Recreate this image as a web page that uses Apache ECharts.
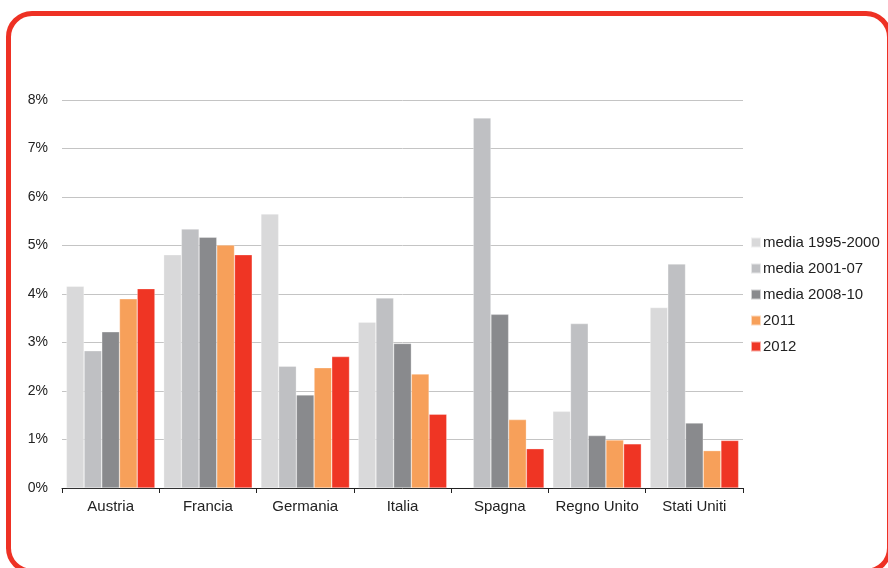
<!DOCTYPE html>
<html>
<head>
<meta charset="utf-8">
<script src="https://cdn.jsdelivr.net/npm/echarts@6/dist/echarts.min.js"></script>
<style>
html,body{margin:0;padding:0;background:#fff;overflow:hidden;}
#frame{position:absolute;left:6px;top:11px;width:886px;height:563px;box-sizing:border-box;border:5px solid #EE3124;border-radius:26px;}
#chart{position:absolute;left:0;top:0;width:888px;height:568px;}
</style>
</head>
<body>
<div id="frame"></div>
<div id="chart"></div>
<script>
var categories = ['Austria','Francia','Germania','Italia','Spagna','Regno Unito','Stati Uniti'];
var seriesNames = ['media 1995-2000','media 2001-07','media 2008-10','2011','2012'];
var s1995 = [4.16, 4.81, 5.65, 3.42, null, 1.58, 3.72];
var s2001 = [2.83, 5.34, 2.51, 3.92, 7.63, 3.39, 4.62];
var s2008 = [3.22, 5.17, 1.92, 2.98, 3.58, 1.08, 1.34];
var s2011 = [3.90, 5.01, 2.48, 2.35, 1.41, 0.99, 0.77];
var s2012 = [4.11, 4.81, 2.71, 1.52, 0.81, 0.91, 0.98];
var yTicks = [0,1,2,3,4,5,6,7,8];
var colors = ['#D9D9DA','#BFC0C3','#898A8D','#F7A05A','#EF3524'];
var allData = [s1995, s2001, s2008, s2011, s2012];

var chart = echarts.init(document.getElementById('chart'), null, {renderer:'canvas'});
var font = '"Liberation Sans", Arial, sans-serif';
chart.setOption({
  animation:false,
  color: colors,
  grid:{left:62, right:145, top:100, bottom:80, containLabel:false},
  legend:{
    orient:'vertical', left:745, top:230, itemWidth:10, itemHeight:10, itemGap:11,
    icon:'rect',
    textStyle:{fontFamily:font, fontSize:15, lineHeight:15, color:'#222', padding:[0,0,0,-3]},
    data: seriesNames
  },
  xAxis:{
    type:'category', data:categories,
    axisLine:{lineStyle:{color:'#222', width:1}},
    axisTick:{show:true, interval:0, length:5, lineStyle:{color:'#222'}},
    axisLabel:{interval:0, hideOverlap:false, fontFamily:font, fontSize:15, color:'#222', margin:11}
  },
  yAxis:{
    type:'value', min:0, max:8, interval:1,
    axisLine:{show:false}, axisTick:{show:false},
    splitLine:{lineStyle:{color:'#C4C4C4', width:1}},
    axisLabel:{fontFamily:font, fontSize:14, color:'#222', margin:14, formatter:function(v){return v+'%';}}
  },
  series: seriesNames.map(function(n,i){
    return {name:n, type:'bar', data:allData[i], barGap:'0%', barCategoryGap:'9%',
      itemStyle:{color:colors[i], borderColor:'rgba(255,255,255,0.6)', borderWidth:0.5}};
  })
});
</script>
</body>
</html>
